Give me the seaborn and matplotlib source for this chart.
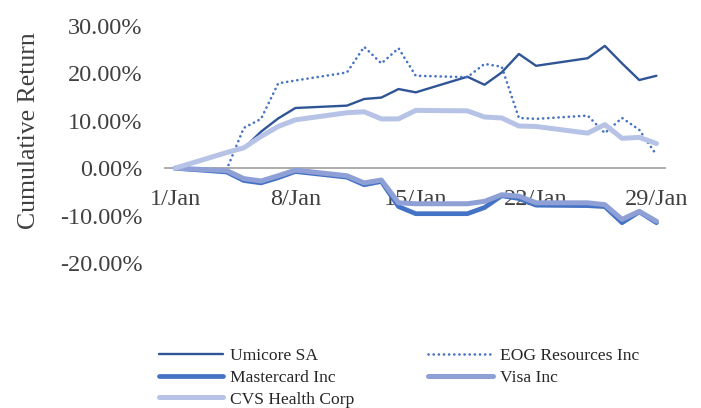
import matplotlib
matplotlib.use('Agg')
import matplotlib.pyplot as plt
import matplotlib.dates as mdates
import matplotlib.ticker as mticker
import seaborn as sns
import pandas as pd

# Trading days, Jan 2021
dates = pd.to_datetime(['2021-01-01', '2021-01-04', '2021-01-05', '2021-01-06', '2021-01-07',
                        '2021-01-08', '2021-01-11', '2021-01-12', '2021-01-13', '2021-01-14',
                        '2021-01-15', '2021-01-18', '2021-01-19', '2021-01-20', '2021-01-21',
                        '2021-01-22', '2021-01-25', '2021-01-26', '2021-01-27', '2021-01-28',
                        '2021-01-29'])

# cumulative return, %
umicore = [0, 3.3, 4.2, 7.7, 10.5, 12.7, 13.2, 14.6, 14.9, 16.7, 16.0, 19.3, 17.6, 20.2, 24.1,
           21.6, 23.2, 25.8, 22.1, 18.6, 19.5]
eog = [0, -0.3, 8.5, 10.4, 17.9, 18.5, 20.2, 25.6, 22.1, 25.3, 19.5, 19.2, 22.0, 21.4, 10.6,
       10.4, 11.1, 7.4, 10.6, 8.1, 2.8]
mastercard = [0, -0.8, -2.6, -3.1, -2.0, -0.7, -1.9, -3.5, -2.8, -8.1, -9.6, -9.6, -8.3, -5.8,
              -6.4, -7.8, -7.9, -8.1, -11.5, -9.2, -11.5]
visa = [0, -0.5, -2.2, -2.7, -1.6, -0.4, -1.6, -3.1, -2.5, -7.3, -7.5, -7.5, -7.0, -5.6, -5.9,
        -7.3, -7.3, -7.7, -10.8, -9.1, -11.2]
cvs = [0, 3.3, 4.3, 6.7, 8.8, 10.2, 11.7, 11.9, 10.4, 10.4, 12.2, 12.1, 10.8, 10.6, 8.9, 8.8,
       7.4, 9.2, 6.3, 6.5, 5.2]

names = ['Umicore SA', 'EOG Resources Inc', 'Mastercard Inc', 'Visa Inc', 'CVS Health Corp']
series = [umicore, eog, mastercard, visa, cvs]

styles = {
    'Umicore SA': dict(color='#2F5597', lw=1.7, ls='-'),
    'EOG Resources Inc': dict(color='#4472C4', lw=1.9, ls=(0, (0.05, 1.9))),
    'Mastercard Inc': dict(color='#4472C4', lw=3.4, ls='-'),
    'Visa Inc': dict(color='#8FA0D6', lw=3.6, ls='-'),
    'CVS Health Corp': dict(color='#B7C3E6', lw=3.6, ls='-'),
}

sns.set_style('white')
plt.rcParams['font.family'] = ['Liberation Serif', 'DejaVu Serif']

fig = plt.figure(figsize=(7.01, 4.08), dpi=100)
ax = fig.add_axes([0.2354, 0.3554, 0.7133, 0.5809])

handles = {}
for name, vals in zip(names, series):
    st = styles[name]
    sns.lineplot(x=dates, y=vals, ax=ax, color=st['color'], linewidth=st['lw'],
                 linestyle=st['ls'], label=name, solid_capstyle='round',
                 dash_capstyle='round', legend=False)
    handles[name] = ax.lines[-1]

ax.set_ylim(-20, 30)
ax.set_xlim(pd.Timestamp('2021-01-01') - pd.Timedelta(hours=14),
            pd.Timestamp('2021-01-29') + pd.Timedelta(hours=12))
ax.yaxis.set_major_locator(mticker.MultipleLocator(10))
ax.yaxis.set_major_formatter(mticker.FuncFormatter(lambda v, p: f'{v:.2f}%'))
ax.xaxis.set_major_locator(mdates.DayLocator(bymonthday=[1, 8, 15, 22, 29]))
ax.xaxis.set_major_formatter(mticker.FuncFormatter(
    lambda v, p: f'{mdates.num2date(v).day}/{mdates.num2date(v).strftime("%b")}'))

for s in ['top', 'right', 'left']:
    ax.spines[s].set_visible(False)
ax.spines['bottom'].set_position(('data', 0))
ax.spines['bottom'].set_color('#A6A6A6')
ax.spines['bottom'].set_linewidth(1.3)
ax.spines['bottom'].set_zorder(0)
ax.tick_params(axis='both', length=0, labelsize=17.5, colors='#404040')
ax.tick_params(axis='x', pad=15)
ax.tick_params(axis='y', pad=16)
ax.set_xlabel('')
ax.set_ylabel('Cumulative Return', fontsize=18.5, color='#404040')
ax.yaxis.set_label_coords(-0.25, 0.557)

order = ['Umicore SA', 'Mastercard Inc', 'CVS Health Corp', 'EOG Resources Inc', 'Visa Inc']
fig.legend([handles[n] for n in order], order, ncol=2, loc='upper left',
           bbox_to_anchor=(0.2264, 0.148), frameon=False, fontsize=12.6,
           handlelength=3.7, handletextpad=0.4, columnspacing=4.2,
           labelspacing=0.32, borderaxespad=0, borderpad=0, labelcolor='#262626')

fig.savefig('out.png', dpi=100)
